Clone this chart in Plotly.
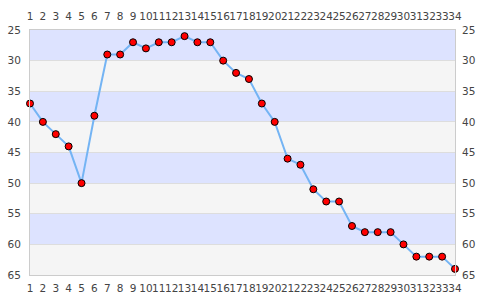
import plotly.graph_objects as go

x_vals = list(range(1, 35))
y_vals = [37, 40, 42, 44, 50, 39, 29, 29, 27, 28, 27, 27, 26, 27, 27, 30, 32, 33, 37, 40,
          46, 47, 51, 53, 53, 57, 58, 58, 58, 60, 62, 62, 62, 64]
y_ticks = [25, 30, 35, 40, 45, 50, 55, 60, 65]
band_colors = ["#dde3ff", "#f5f5f5"]

fig = go.Figure()

# background bands
for i in range(len(y_ticks) - 1):
    fig.add_shape(type="rect", xref="x domain", yref="y", x0=0, x1=1,
                  y0=y_ticks[i], y1=y_ticks[i + 1],
                  fillcolor=band_colors[i % 2], line_width=0, layer="below")

fig.add_trace(go.Scatter(
    x=x_vals, y=y_vals, mode="lines+markers",
    line=dict(color="#74b4f4", width=2),
    marker=dict(color="#ff0000", size=7, line=dict(color="#000000", width=1)),
    cliponaxis=False, showlegend=False, xaxis="x", yaxis="y"))
# invisible trace for mirrored axes
fig.add_trace(go.Scatter(x=x_vals, y=y_vals, mode="markers", marker=dict(opacity=0),
                         hoverinfo="skip", showlegend=False, xaxis="x2", yaxis="y2"))

font = dict(family="DejaVu Sans", size=10.5, color="#444444")
xcommon = dict(range=[1, 34], tickmode="array", tickvals=x_vals,
               ticktext=[str(v) for v in x_vals], showgrid=False, zeroline=False,
               tickfont=font, ticks="", ticklen=0, tickangle=0, automargin=False)
ycommon = dict(range=[65, 25], tickmode="array", tickvals=y_ticks,
               ticktext=[str(v) for v in y_ticks], zeroline=False,
               tickfont=font, ticks="", ticklabelstandoff=6, automargin=False)

fig.update_layout(
    width=485, height=300,
    margin=dict(l=30, r=30, t=30, b=25),
    paper_bgcolor="white", plot_bgcolor="white",
    xaxis=dict(**xcommon, side="bottom", ticklabelstandoff=3, showline=True,
               linecolor="#cccccc", linewidth=1, mirror=True),
    xaxis2=dict(**xcommon, side="top", overlaying="x", ticklabelstandoff=7, showline=False),
    yaxis=dict(**ycommon, side="left", showgrid=True, gridcolor="#dddddd", gridwidth=1,
               showline=True, linecolor="#cccccc", linewidth=1, mirror=True),
    yaxis2=dict(**ycommon, side="right", overlaying="y", showgrid=False, showline=False),
)

fig.write_html("out.html")
